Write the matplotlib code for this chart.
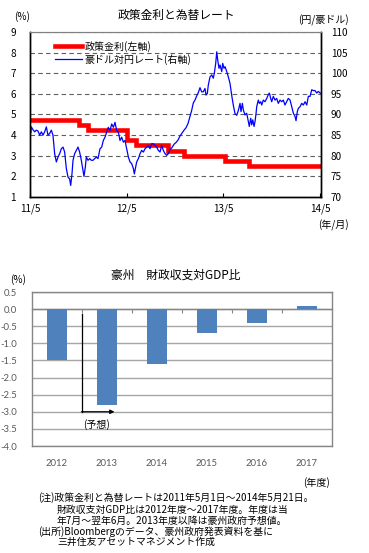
import matplotlib
matplotlib.use('Agg')
import matplotlib.pyplot as plt
from matplotlib.lines import Line2D
import numpy as np

plt.rcParams['font.family'] = ['Noto Sans CJK JP', 'DejaVu Sans']
plt.rcParams['axes.unicode_minus'] = False

# ---------------- data: top chart ----------------
# policy rate (months since 2011/5)
rate_month = [0, 6.03, 7.2, 12.03, 13.2, 17.07, 19.13, 24.23, 27.2, 36.67]
rate_value = [4.75, 4.5, 4.25, 3.75, 3.5, 3.25, 3.0, 2.75, 2.5, 2.5]

# AUD/JPY (months since 2011/5)
fx_month = [0, 0.08, 0.165, 0.372, 0.579, 0.786, 0.993, 1.2, 1.41, 1.61, 1.82, 2.03, 2.23,
            2.44, 2.65, 2.85, 3.06, 3.27, 3.48, 3.68, 3.89, 4.1, 4.3, 4.51, 4.72, 4.92,
            5.05, 5.21, 5.34, 5.54, 5.75, 5.96, 6.16, 6.37, 6.58, 6.70, 6.87, 6.99, 7.2,
            7.41, 7.61, 7.82, 8.03, 8.23, 8.44,
            8.69, 8.90, 9.10, 9.31, 9.52, 9.72, 9.93, 10.14, 10.35, 10.55, 10.76, 10.97,
            11.17, 11.38, 11.59, 11.79, 12.0, 12.21, 12.41, 12.62, 12.83, 12.95, 13.12,
            13.24, 13.45, 13.66, 13.86, 14.07, 14.28, 14.48, 14.69, 14.9, 15.1, 15.31,
            15.52, 15.72, 15.93, 16.14, 16.34, 16.55, 16.76, 16.97, 17.17,
            17.38, 17.63, 17.88, 18.12, 18.37, 18.62, 18.87, 19.12, 19.37, 19.61, 19.86,
            20.07, 20.27, 20.48, 20.69, 20.89, 21.10, 21.31, 21.51, 21.72, 21.85, 22.01,
            22.13, 22.34, 22.56, 22.75, 22.88, 23.05, 23.18, 23.30, 23.46, 23.59, 23.80,
            23.92, 24.08, 24.21, 24.42, 24.62, 24.83, 25.04, 25.24, 25.45, 25.66, 25.86,
            26.07, 26.19, 26.36, 26.48, 26.69, 26.90, 27.10, 27.22, 27.40, 27.52, 27.65,
            27.81, 27.93, 28.06, 28.14, 28.34, 28.47, 28.64, 28.76, 28.96, 29.17, 29.38,
            29.58, 29.71, 29.88, 30.00, 30.20, 30.41, 30.62, 30.82, 31.03, 31.24, 31.44,
            31.65, 31.86, 32.06, 32.28, 32.48, 32.69, 32.90, 33.02, 33.18, 33.31, 33.52,
            33.73, 33.93, 34.14, 34.35, 34.55, 34.76, 34.97, 35.17, 35.38, 35.59, 35.79,
            36.00, 36.21]
fx_yen = [88.5, 85.5, 87.0, 86.3, 85.8, 86.2, 86.0, 85.0, 85.8, 85.0, 85.8, 87.0, 85.0,
          85.4, 86.2, 85.0, 80.5, 78.5, 79.7, 80.5, 81.7, 82.1, 80.9, 76.9, 74.8, 74.4,
          72.8, 75.6, 78.9, 80.5, 81.3, 82.1, 80.9, 78.9, 76.5, 75.0, 77.3, 79.7, 78.9,
          79.3, 78.9, 78.9, 79.3, 79.7, 79.3,
          81.7, 82.1, 83.7, 84.5, 85.7, 86.9, 86.1, 87.7, 86.9, 88.1, 86.1, 85.7,
          83.7, 84.5, 83.3, 83.7, 81.7, 79.7, 78.5, 78.1, 76.9, 75.6, 77.3,
          78.5, 79.3, 80.5, 81.3, 80.9, 81.7, 82.1, 82.5, 81.7, 82.9, 82.9,
          82.5, 82.1, 81.3, 80.9, 82.5, 81.3, 80.5, 80.1, 80.5,
          81.5, 82.0, 82.8, 83.2, 83.8, 84.8, 85.5, 86.2, 86.8, 87.8, 89.5,
          91.0, 92.8, 93.5, 94.5, 95.3, 96.5, 95.5, 95.5, 96.3, 94.7, 95.1,
          97.1, 99.1, 99.6, 98.8, 100.0, 102.4, 105.2, 103.2, 101.2, 102.0, 100.4,
          102.4, 101.2, 101.6, 100.4, 99.1, 97.5, 94.6, 92.2, 90.2, 89.8, 91.0,
          92.7, 90.7, 92.7, 91.1, 89.9, 90.3, 88.3, 87.1, 89.1, 87.5, 88.7,
          87.1, 88.3, 90.3, 91.9, 93.5, 92.7, 93.1, 92.3, 93.5, 93.1, 93.9,
          94.8, 95.2, 93.9, 93.1, 94.4, 93.5, 93.9, 92.7, 93.5, 93.1, 93.5,
          92.3, 93.1, 93.9, 93.5, 91.9, 90.3, 89.5, 88.5, 90.7, 91.5, 91.9,
          92.7, 92.3, 93.1, 92.3, 94.4, 94.4, 96.0, 95.8, 95.8, 95.2, 95.6,
          95.2, 95.2]

month_ticks = [0, 12, 24, 36]
month_labels = ['11/5', '12/5', '13/5', '14/5']
left_ticks = [1, 2, 3, 4, 5, 6, 7, 8, 9]
right_ticks = [70, 75, 80, 85, 90, 95, 100, 105, 110]

# ---------------- data: bottom chart ----------------
years = ['2012', '2013', '2014', '2015', '2016', '2017']
balance = [-1.5, -2.8, -1.6, -0.7, -0.4, 0.1]
bal_ticks = [0.5, 0.0, -0.5, -1.0, -1.5, -2.0, -2.5, -3.0, -3.5, -4.0]

W, H = 369, 553
fig = plt.figure(figsize=(W / 100, H / 100), dpi=100)

# ================= top chart =================
ax1 = fig.add_axes([30 / W, 1 - 197 / H, 291 / W, 165 / H])
ax1.step(rate_month, rate_value, where='post', color='#ff0000', lw=3.3,
         solid_capstyle='butt', solid_joinstyle='miter')
ax1.set_xlim(0, 36.12)
ax1.set_ylim(1, 9)
ax1.set_yticks(left_ticks)
ax1.set_yticklabels([str(v) for v in left_ticks])
ax1.yaxis.grid(True, linestyle=(0, (4, 3)), color='#5a605a', lw=0.8)
ax1.set_xticks(month_ticks)
ax1.set_xticklabels(month_labels)
ax1.tick_params(axis='y', length=0, pad=10, labelsize=7.2)
ax1.tick_params(axis='x', direction='in', length=3, pad=5, labelsize=7.2)

ax2 = ax1.twinx()
ax2.plot(fx_month, fx_yen, color='#0000ff', lw=0.9)
ax2.set_ylim(70, 110)
ax2.set_yticks(right_ticks)
ax2.set_yticklabels([str(v) for v in right_ticks])
ax2.tick_params(axis='y', length=0, pad=7, labelsize=7.2)

for a in (ax1, ax2):
    for s in ('left', 'right', 'bottom'):
        a.spines[s].set_color('black')
        a.spines[s].set_linewidth(1.0)
    a.spines['top'].set_color('#808080')
    a.spines['top'].set_linewidth(0.8)

handles = [Line2D([], [], color='#ff0000', lw=3.3),
           Line2D([], [], color='#0000ff', lw=0.9)]
ax2.legend(handles, ['政策金利(左軸)', '豪ドル対円レート(右軸)'], loc='upper left',
           bbox_to_anchor=(0.07, 0.975), frameon=False, fontsize=7.2,
           handlelength=2.7, handletextpad=0.25, labelspacing=0.2, borderpad=0)

fig.text(176 / W, 1 - 15 / H, '政策金利と為替レート', ha='center', va='center', fontsize=8.5)
fig.text(22 / W, 1 - 17 / H, '(%)', ha='center', va='center', fontsize=7.2)
fig.text(323 / W, 1 - 20 / H, '(円/豪ドル)', ha='center', va='center', fontsize=7.2)
fig.text(333 / W, 1 - 225 / H, '(年/月)', ha='center', va='center', fontsize=7.2)

# ================= bottom chart =================
ax3 = fig.add_axes([32 / W, 1 - 446 / H, 300 / W, 154 / H])
x = np.arange(len(years))
ax3.bar(x, balance, width=0.4, color='#4f81bd', zorder=3)
ax3.set_xlim(-0.5, len(years) - 0.5)
ax3.set_ylim(-4.0, 0.5)
ax3.set_yticks(bal_ticks)
ax3.set_yticklabels(['%.1f' % v for v in bal_ticks], fontfamily='Lato', color='#595959')
ax3.yaxis.grid(True, color='#a6a6a6', lw=1.0)
ax3.set_axisbelow(True)
ax3.tick_params(axis='y', length=0, pad=11, labelsize=6.8)
for s in ax3.spines.values():
    s.set_color('#868686')
    s.set_linewidth(1.0)
ax3.spines['bottom'].set_position(('data', 0))
ax3.set_xticks(x[:-1] + 0.5)
ax3.set_xticklabels([])
ax3.tick_params(axis='x', direction='out', length=3, color='#868686')

sec = ax3.secondary_xaxis('bottom')
sec.set_xticks(x)
sec.set_xticklabels(years, fontfamily='Lato', color='#595959')
sec.tick_params(length=0, pad=9, labelsize=6.8)
sec.spines['bottom'].set_color('#868686')
sec.spines['bottom'].set_linewidth(1.0)

# forecast marker
ax3.plot([0.5, 0.5], [-0.15, -3.0], color='black', lw=0.9, zorder=4)
ax3.annotate('', xy=(1.15, -3.0), xytext=(0.49, -3.0),
             arrowprops=dict(arrowstyle='-|>', color='black', lw=0.9,
                             mutation_scale=6, shrinkA=0, shrinkB=0), zorder=4)
ax3.text(0.52, -3.38, '(予想)', ha='left', va='center', fontsize=7.2)

fig.text(176 / W, 1 - 275 / H, '豪州　財政収支対GDP比', ha='center', va='center', fontsize=8.5)
fig.text(18 / W, 1 - 280 / H, '(%)', ha='center', va='center', fontsize=7.2)
fig.text(316 / W, 1 - 483 / H, '(年度)', ha='center', va='center', fontsize=7.2)

# ================= notes =================
notes = [
    (38, 498, '(注)政策金利と為替レートは2011年5月1日～2014年5月21日。'),
    (57, 510, '財政収支対GDP比は2012年度～2017年度。年度は当'),
    (57, 520.5, '年7月～翌年6月。2013年度以降は豪州政府予想値。'),
    (38, 531.5, '(出所)Bloombergのデータ、豪州政府発表資料を基に'),
    (57, 542, '三井住友アセットマネジメント作成'),
]
for nx, ny, t in notes:
    fig.text(nx / W, 1 - ny / H, t, ha='left', va='center', fontsize=7.1)

fig.savefig('out.png', dpi=100)
